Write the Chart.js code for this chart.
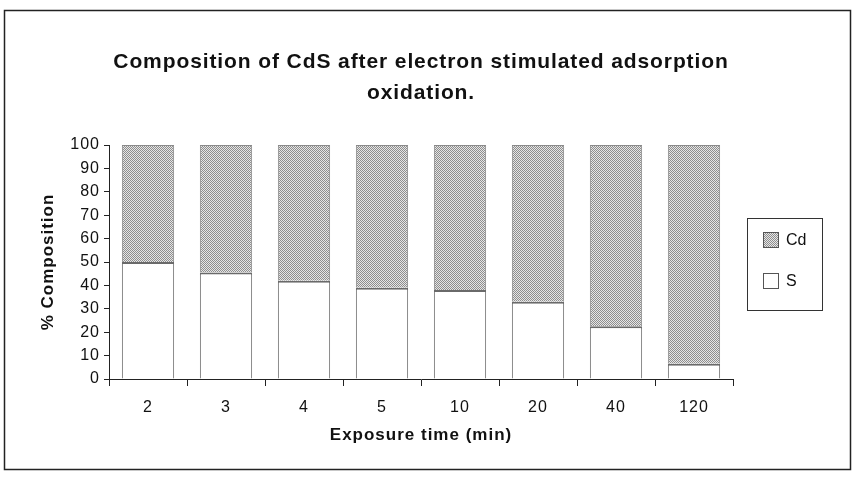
<!DOCTYPE html>
<html>
<head>
<meta charset="utf-8">
<script src="https://cdn.jsdelivr.net/npm/chart.js@4.4.1/dist/chart.umd.min.js"></script>
<style>
  html, body { margin: 0; padding: 0; background: #ffffff; }
  #wrap { width: 859px; height: 478px; position: relative; }
</style>
</head>
<body>
<div id="wrap"><canvas id="chart" width="859" height="478"></canvas></div>
<script>
// data
const categories = ['2', '3', '4', '5', '10', '20', '40', '120'];
const sValues = [50, 45.5, 42, 39, 38, 33, 22.5, 6.5];
const cdValues = [50, 54.5, 58, 61, 62, 67, 77.5, 93.5];
const seriesNames = ['S', 'Cd'];
const titleLines = ['Composition of CdS after electron stimulated adsorption', 'oxidation.'];
const yMin = 0, yMax = 100, yStep = 10;

// stipple fill for Cd
function makeStipple() {
  const c = document.createElement('canvas');
  c.width = 2; c.height = 2;
  const g = c.getContext('2d');
  g.fillStyle = '#e6e6e6';
  g.fillRect(0, 0, 2, 2);
  g.fillStyle = '#8e8e8e';
  g.fillRect(0, 0, 1, 1);
  g.fillRect(1, 1, 1, 1);
  return g.createPattern(c, 'repeat');
}

const FONT = "'Liberation Sans', Arial, sans-serif";

// the scan's lettering is a little spaced out
const spacing = {
  id: 'spacing',
  beforeDraw(chart) { chart.ctx.letterSpacing = '1px'; }
};

// frame, title and boxed legend
const decor = {
  id: 'decor',
  afterDraw(chart) {
    const ctx = chart.ctx;
    ctx.save();
    // outer frame
    ctx.strokeStyle = '#222';
    ctx.lineWidth = 1.5;
    ctx.strokeRect(4.5, 10.5, 846, 459);

    // title
    ctx.fillStyle = '#111';
    ctx.font = 'bold 21px ' + FONT;
    ctx.textAlign = 'center';
    ctx.textBaseline = 'middle';
    ctx.letterSpacing = '0.9px';
    ctx.fillText(titleLines[0], 421, 62);
    ctx.fillText(titleLines[1], 421, 93);
    ctx.letterSpacing = '0px';

    // legend box
    ctx.strokeStyle = '#333';
    ctx.lineWidth = 1;
    ctx.strokeRect(747.5, 218.5, 75, 92);
    const sets = chart.data.datasets.slice().reverse();
    ctx.font = '16px ' + FONT;
    ctx.textAlign = 'left';
    sets.forEach((ds, i) => {
      const y = 232 + i * 41;
      ctx.fillStyle = ds.backgroundColor;
      ctx.fillRect(763, y, 16, 16);
      ctx.strokeStyle = '#555';
      ctx.strokeRect(763.5, y + 0.5, 15, 15);
      ctx.fillStyle = '#111';
      ctx.fillText(ds.label, 786, y + 9);
    });
    ctx.restore();
  }
};

new Chart(document.getElementById('chart'), {
  type: 'bar',
  data: {
    labels: categories,
    datasets: [{
      label: seriesNames[0],
      data: sValues,
      backgroundColor: '#ffffff',
      borderColor: '#6a6a6a',
      borderWidth: { top: 2, left: 1, right: 1, bottom: 0 },
      borderSkipped: false,
      categoryPercentage: 1,
      barPercentage: 0.67
    }, {
      label: seriesNames[1],
      data: cdValues,
      backgroundColor: makeStipple(),
      borderColor: '#8a8a8a',
      borderWidth: { top: 1, left: 1, right: 1, bottom: 0 },
      borderSkipped: false,
      categoryPercentage: 1,
      barPercentage: 0.67
    }]
  },
  options: {
    responsive: false,
    animation: false,
    layout: { padding: { top: 145, left: 34, right: 126, bottom: 28 } },
    plugins: {
      legend: { display: false },
      title: { display: false },
      tooltip: { enabled: false }
    },
    scales: {
      x: {
        stacked: true,
        border: { color: '#222', width: 1 },
        grid: { drawOnChartArea: false, tickLength: 7, color: '#222', offset: true },
        ticks: { color: '#111', padding: 12, font: { family: FONT, size: 16 } },
        title: {
          display: true, text: 'Exposure time (min)', color: '#111',
          font: { family: FONT, size: 17, weight: 'bold' }, padding: { top: 4, bottom: 4 }
        },
        afterFit(scale) { scale.height = 71; }
      },
      y: {
        stacked: true,
        min: yMin, max: yMax,
        border: { color: '#222', width: 1 },
        grid: { drawOnChartArea: false, tickLength: 5, color: '#222' },
        ticks: { stepSize: yStep, color: '#111', padding: 4, font: { family: FONT, size: 16 } },
        title: {
          display: true, text: '% Composition', color: '#111',
          font: { family: FONT, size: 17, weight: 'bold' }, padding: { top: 4, bottom: 4 }
        },
        afterFit(scale) { scale.width = 75; }
      }
    }
  },
  plugins: [spacing, decor]
});
</script>
</body>
</html>
